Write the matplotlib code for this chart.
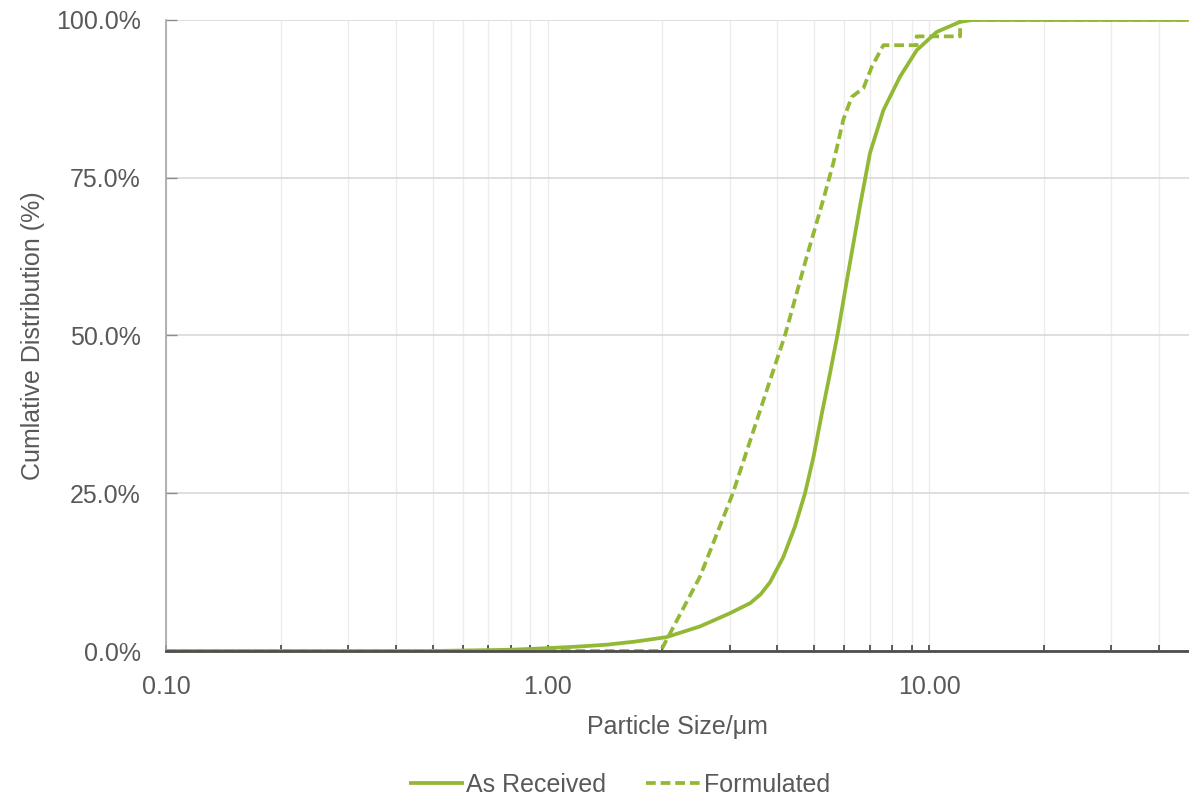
import matplotlib
matplotlib.use("Agg")
import matplotlib.pyplot as plt
from matplotlib.ticker import FixedLocator, FuncFormatter, LogLocator, NullFormatter

plt.rcParams['font.family'] = ['Liberation Sans', 'DejaVu Sans']

# cumulative size distribution, as received (particle size in um, cumulative %)
size_received = [0.10, 0.50, 0.80, 0.96, 1.20, 1.43, 1.70, 2.05, 2.51, 3.01, 3.40,
                 3.62, 3.83, 4.15, 4.45, 4.73, 4.98, 5.23, 5.50, 5.77, 6.10, 6.59,
                 7.00, 7.59, 8.39, 9.28, 10.47, 12.06, 13.0, 48.0]
cum_received = [0.0, 0.0, 0.2, 0.4, 0.7, 1.0, 1.5, 2.2, 3.9, 6.0, 7.6,
                9.0, 10.9, 14.9, 19.7, 25.0, 30.8, 37.5, 44.0, 50.5, 59.0, 70.5,
                78.9, 85.7, 91.0, 95.2, 98.1, 99.7, 100.0, 100.0]

# cumulative size distribution after formulation
size_formulated = [0.10, 1.98, 2.51, 3.06, 3.83, 4.19, 4.78, 5.28, 5.61, 5.96,
                   6.27, 6.73, 7.08, 7.59, 9.28, 9.28, 12.06, 12.06, 48.0]
cum_formulated = [0.0, 0.0, 11.8, 25.0, 42.9, 50.0, 62.5, 71.5, 77.3, 84.2,
                  87.8, 89.2, 92.6, 96.0, 96.0, 97.4, 97.4, 100.0, 100.0]

y_ticks = [0, 25, 50, 75, 100]
x_major = [0.1, 1.0, 10.0]

green = '#93b835'
text_grey = '#595959'

fig = plt.figure(figsize=(11.89, 7.98), dpi=100)
ax = fig.add_axes([0.1396, 0.1842, 0.8604, 0.7908])

ax.plot(size_received, cum_received, color=green, lw=2.7, label='As Received',
        solid_capstyle='butt', solid_joinstyle='round')
ax.plot(size_formulated, cum_formulated, color=green, lw=2.7, ls=(0, (2.6, 1.3)),
        label='Formulated')

ax.set_xscale('log')
ax.set_xlim(0.1, 48)
ax.set_ylim(0, 100)

ax.xaxis.set_major_locator(FixedLocator(x_major))
ax.xaxis.set_major_formatter(FuncFormatter(lambda v, p: f'{v:.2f}'))
ax.xaxis.set_minor_locator(LogLocator(base=10, subs=range(2, 10), numticks=20))
ax.xaxis.set_minor_formatter(NullFormatter())
ax.yaxis.set_major_locator(FixedLocator(y_ticks))
ax.yaxis.set_major_formatter(FuncFormatter(lambda v, p: f'{v:.1f}%'))

ax.grid(True, which='both', axis='x', color='#ececec', lw=1.0)
ax.grid(True, which='major', axis='y', color='#d9d9d9', lw=1.2)
ax.set_axisbelow(True)

for side in ('top', 'right'):
    ax.spines[side].set_visible(False)
ax.spines['left'].set_color('#a6a6a6')
ax.spines['left'].set_linewidth(1.2)
ax.spines['bottom'].set_color('#4d4d4d')
ax.spines['bottom'].set_linewidth(2.0)

ax.tick_params(axis='x', which='both', direction='in', length=4, width=1.2,
               color='#404040', labelsize=18, labelcolor=text_grey, pad=17)
ax.tick_params(axis='y', which='major', direction='in', length=8, width=1.0,
               color='#8c8c8c', labelsize=18, labelcolor=text_grey, pad=18)

ax.set_xlabel('Particle Size/μm', fontsize=18, color=text_grey, labelpad=12)
ax.set_ylabel('Cumlative Distribution (%)', fontsize=18, color=text_grey, labelpad=8)

fig.legend(loc='center', bbox_to_anchor=(0.521, 0.016), ncol=2, frameon=False,
           fontsize=18, labelcolor=text_grey, handlelength=2.2, handletextpad=0.1,
           columnspacing=1.6)

fig.savefig('out.png', dpi=100)
